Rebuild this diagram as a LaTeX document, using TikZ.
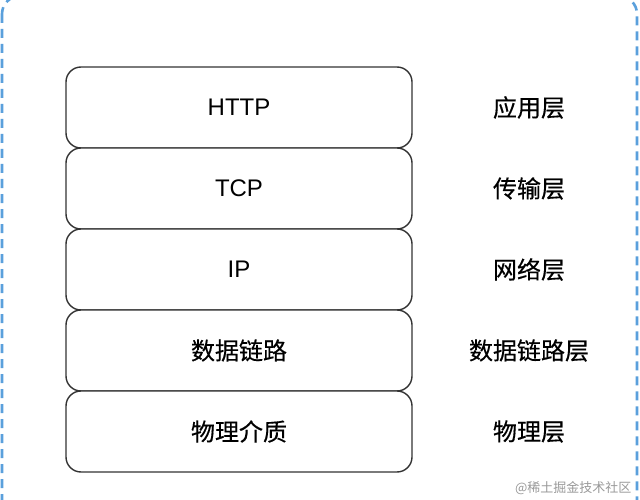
\documentclass[tikz,border=0pt]{standalone}
\usepackage{fontspec}
\setmainfont{Liberation Sans}
\newfontfamily\cjk[FakeBold=0.4]{Noto Sans CJK SC}
\newfontfamily\wmfont{Noto Sans CJK SC}
\begin{document}
\begin{tikzpicture}[x=1pt,y=-1pt,
  layer/.style={draw=black!80,line width=1.4pt,rounded corners=15pt,minimum width=346pt,minimum height=81pt,fill=white,font=\fontsize{24}{28}\selectfont\cjk},
  lbl/.style={font=\fontsize{24}{28}\selectfont\cjk},
  frame/.style={line width=2.6pt,dash pattern=on 9pt off 6pt,rounded corners=18pt}]
\useasboundingbox (0,0) rectangle (640,500);
\begin{scope}
\clip (0,0) rectangle (640,500);
\draw[frame,draw={rgb,255:red,90;green,160;blue,220}] (2,-4) rectangle (637,520);
\end{scope}
\node[layer] (l1) at (239,107.5) {\fontspec{Liberation Sans}HTTP};
\node[layer] (l2) at (239,188.5) {\fontspec{Liberation Sans}TCP};
\node[layer] (l3) at (239,269.5) {\fontspec{Liberation Sans}IP};
\node[layer] (l4) at (239,350.5) {数据链路};
\node[layer] (l5) at (239,431.5) {物理介质};
\node[lbl] (r1) at (529,107.5) {应用层};
\node[lbl] (r2) at (529,188.5) {传输层};
\node[lbl] (r3) at (529,269.5) {网络层};
\node[lbl] (r4) at (529,350.5) {数据链路层};
\node[lbl] (r5) at (529,431.5) {物理层};
\node[font=\fontsize{13}{15}\selectfont\wmfont,text=black!40,anchor=east] (wm) at (635,488) {@稀土掘金技术社区};
\end{tikzpicture}
\end{document}
